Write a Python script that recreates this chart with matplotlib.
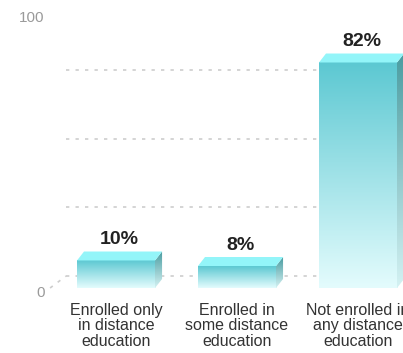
import numpy as np
import matplotlib
matplotlib.use("Agg")
import matplotlib.pyplot as plt
from matplotlib.patches import Polygon
from matplotlib.colors import to_rgb

# survey shares by enrollment type
categories = ["Enrolled only\nin distance\neducation",
              "Enrolled in\nsome distance\neducation",
              "Not enrolled in\nany distance\neducation"]
shares = [10, 8, 82]
tick_values = [0, 100]
grid_values = [25, 50, 75]

plt.rcParams['font.family'] = ['Liberation Sans', 'DejaVu Sans']

bar_w = 0.645
dx, dz = 0.058, 3.27       # bar depth
wx, wz = 0.132, 4.36       # back wall offset
floor_left = -0.545


def gradient(c_top, c_bot, n=256):
    t = np.linspace(0, 1, n)[:, None]
    a, b = np.array(to_rgb(c_top)), np.array(to_rgb(c_bot))
    return (a * (1 - t) + b * t)[:, None, :]


fig = plt.figure(figsize=(4.03, 3.53), dpi=100)
ax = fig.add_axes([0, 0, 1, 1])
ax.axis('off')

grid_kw = dict(color='#cdcdcd', lw=1.2, dashes=(2.0, 3.7), zorder=1)

# back wall gridlines and floor edge
for g in grid_values + [0]:
    ax.plot([floor_left + wx, 2.6], [g + wz, g + wz], **grid_kw)
ax.plot([floor_left, floor_left + wx], [0, wz], **grid_kw)

x = np.arange(len(shares))
for xi, v in zip(x, shares):
    x0, x1 = xi - bar_w / 2, xi + bar_w / 2
    # front face
    ax.imshow(gradient('#5cc8d2', '#e4fcfd'), extent=[x0, x1, 0, v],
              aspect='auto', origin='upper', zorder=3)
    # side face
    side = Polygon([[x1, 0], [x1 + dx, dz], [x1 + dx, v + dz], [x1, v]],
                   closed=True, fc='none', ec='none')
    ax.add_patch(side)
    im = ax.imshow(gradient('#4a9ca1', '#d4f2f3'), extent=[x1, x1 + dx, 0, v + dz],
                   aspect='auto', origin='upper', zorder=3)
    im.set_clip_path(side)
    # top face
    top = Polygon([[x0, v], [x1, v], [x1 + dx, v + dz], [x0 + dx, v + dz]],
                  closed=True, fc='#93f5f9', ec='none', zorder=3)
    ax.add_patch(top)
    ax.annotate(f"{v}%", (xi + dx / 2, v + dz), xytext=(0, 2.5),
                textcoords='offset points', ha='center', va='bottom',
                fontsize=14, fontweight='bold', color='#222222', zorder=4)

for xi, lab in zip(x, categories):
    ax.annotate(lab, (xi, 0), xytext=(0, -10.5), textcoords='offset points',
                ha='center', va='top', fontsize=11.5, color='#333333',
                linespacing=1.06)

for t in tick_values:
    ax.annotate(str(t), (-0.59, t), xytext=(0, -3.5), textcoords='offset points',
                ha='right', va='center', fontsize=11, color='#9a9a9a')

ax.set_xlim(-0.959, 2.372)
ax.set_ylim(-23.64, 104.73)

fig.savefig('out.png', dpi=100)
